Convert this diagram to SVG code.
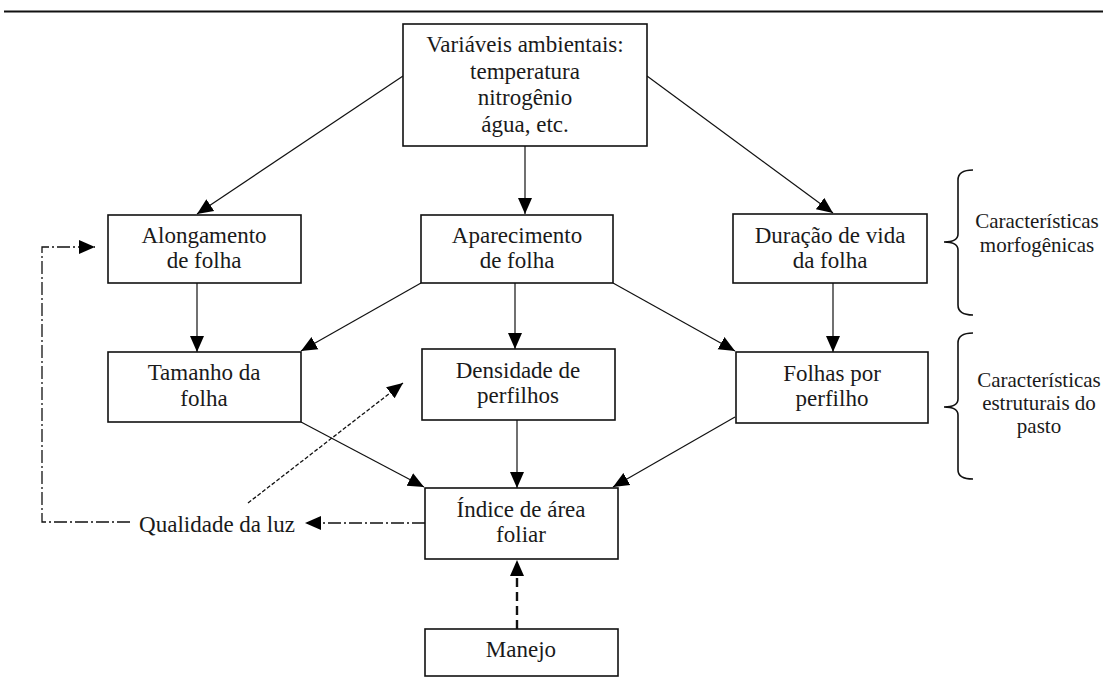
<svg xmlns="http://www.w3.org/2000/svg" width="1103" height="681" viewBox="0 0 1103 681">
<style>
  .box { fill: #ffffff; stroke: #111; stroke-width: 1.6; }
  .t { font-family: "Liberation Serif", "Times New Roman", serif; font-size: 23px; fill: #1a1a1a; text-anchor: middle; }
  .ts { font-family: "Liberation Serif", "Times New Roman", serif; font-size: 21px; fill: #1a1a1a; text-anchor: middle; }
  .c { fill: none; stroke: #111; stroke-width: 1.2; }
  .dash { fill: none; stroke: #111; stroke-width: 1.3; stroke-dasharray: 4 2; }
  .thick { fill: none; stroke: #111; stroke-width: 2.4; stroke-dasharray: 9 5; }
  .dd { fill: none; stroke: #111; stroke-width: 1.3; stroke-dasharray: 13 3 2 3; }
  .brace { fill: none; stroke: #111; stroke-width: 1.6; }
</style>
<defs>
  <marker id="ah" markerUnits="userSpaceOnUse" markerWidth="16" markerHeight="16" viewBox="0 0 16 14" refX="16" refY="7" orient="auto">
    <path d="M0,0 L16,7 L0,14 z" fill="#000"/>
  </marker>
</defs>
<rect width="1103" height="681" fill="#ffffff"/>
<line x1="4" y1="11.5" x2="1103" y2="11.5" stroke="#111" stroke-width="2.2"/>

<g id="connectors">
  <path class="c" d="M403,76 L197,214" marker-end="url(#ah)"/>
  <path class="c" d="M525,146 L525,214" marker-end="url(#ah)"/>
  <path class="c" d="M647,76 L833,213" marker-end="url(#ah)"/>
  <path class="c" d="M197,283 L197,352" marker-end="url(#ah)"/>
  <path class="c" d="M421,283 L301,351" marker-end="url(#ah)"/>
  <path class="c" d="M515,283 L515,349" marker-end="url(#ah)"/>
  <path class="c" d="M613,283 L735,351" marker-end="url(#ah)"/>
  <path class="c" d="M833,283 L833,352" marker-end="url(#ah)"/>
  <path class="c" d="M301,422 L424,487" marker-end="url(#ah)"/>
  <path class="c" d="M517,420 L517,488" marker-end="url(#ah)"/>
  <path class="c" d="M735,417 L613,487" marker-end="url(#ah)"/>
  <path class="thick" d="M517,629 L517,560" marker-end="url(#ah)"/>
  <path class="dd" d="M425,523 L305,523" marker-end="url(#ah)"/>
  <path class="dd" d="M130,522 L42,522 L42,247 L95,247" marker-end="url(#ah)"/>
  <path class="dash" d="M248,503 L403,383" marker-end="url(#ah)"/>
</g>

<g id="n-variaveis">
  <rect class="box" x="403" y="24" width="244" height="122"/>
  <text class="t" x="525" y="52">Variáveis ambientais:</text>
  <text class="t" x="525" y="79">temperatura</text>
  <text class="t" x="525" y="105">nitrogênio</text>
  <text class="t" x="525" y="132">água, etc.</text>
</g>
<g id="n-alongamento">
  <rect class="box" x="108" y="215" width="193" height="68"/>
  <text class="t" x="204" y="243">Alongamento</text>
  <text class="t" x="204" y="268">de folha</text>
</g>
<g id="n-aparecimento">
  <rect class="box" x="421" y="215" width="192" height="68"/>
  <text class="t" x="517" y="243">Aparecimento</text>
  <text class="t" x="517" y="268">de folha</text>
</g>
<g id="n-duracao">
  <rect class="box" x="733" y="214" width="194" height="69"/>
  <text class="t" x="830" y="243">Duração de vida</text>
  <text class="t" x="830" y="268">da folha</text>
</g>
<g id="n-tamanho">
  <rect class="box" x="108" y="352" width="193" height="70"/>
  <text class="t" x="204" y="380">Tamanho da</text>
  <text class="t" x="204" y="406">folha</text>
</g>
<g id="n-densidade">
  <rect class="box" x="422" y="349" width="193" height="71"/>
  <text class="t" x="518" y="378">Densidade de</text>
  <text class="t" x="518" y="403">perfilhos</text>
</g>
<g id="n-folhas">
  <rect class="box" x="736" y="352" width="192" height="71"/>
  <text class="t" x="832" y="381">Folhas por</text>
  <text class="t" x="832" y="406">perfilho</text>
</g>
<g id="n-indice">
  <rect class="box" x="425" y="488" width="193" height="71"/>
  <text class="t" x="521" y="517">Índice de área</text>
  <text class="t" x="521" y="542">foliar</text>
</g>
<g id="n-manejo">
  <rect class="box" x="425" y="629" width="193" height="47"/>
  <text class="t" x="521" y="657">Manejo</text>
</g>
<g id="n-qualidade">
  <text class="t" x="217" y="532">Qualidade da luz</text>
</g>
<g id="n-morfo">
  <path class="brace" d="M973,170 Q958,170 958,180 L958,234 Q958,242 944,242 Q958,242 958,250 L958,305 Q958,315 973,315"/>
  <text class="ts" x="1037" y="228">Características</text>
  <text class="ts" x="1037" y="252">morfogênicas</text>
</g>
<g id="n-estrut">
  <path class="brace" d="M973,333 Q958,333 958,343 L958,399 Q958,407 944,407 Q958,407 958,415 L958,470 Q958,479 973,479"/>
  <text class="ts" x="1039" y="387">Características</text>
  <text class="ts" x="1039" y="410">estruturais do</text>
  <text class="ts" x="1039" y="433">pasto</text>
</g>
</svg>
